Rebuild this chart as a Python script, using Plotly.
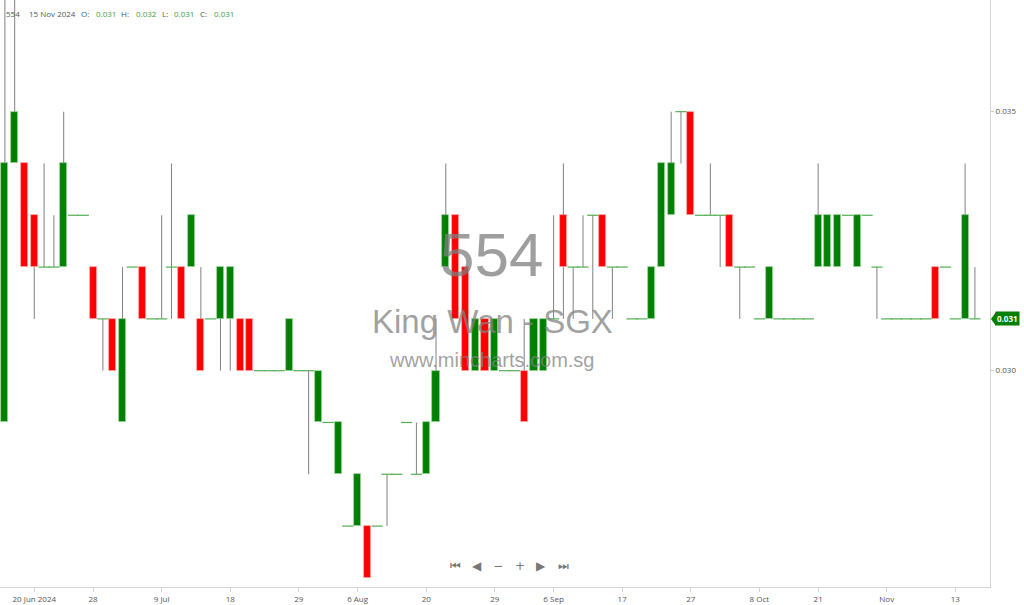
import plotly.graph_objects as go

# ---- data (one entry per trading day) ----
opens = [
    0.029, 0.034, 0.034, 0.033, 0.032, 0.032, 0.032, 0.033, 0.033, 0.032,
    0.031, 0.031, 0.029, 0.032, 0.032, 0.031, 0.031, 0.032, 0.032, 0.032,
    0.031, 0.031, 0.031, 0.031, 0.031, 0.031, 0.030, 0.030, 0.030, 0.030,
    0.030, 0.030, 0.029, 0.029, 0.028, 0.027, 0.027, 0.027, 0.027, 0.028,
    0.028, 0.029, 0.028, 0.028, 0.029, 0.032, 0.033, 0.032, 0.030, 0.031,
    0.030, 0.030, 0.030, 0.030, 0.030, 0.030, 0.031, 0.033, 0.032, 0.032,
    0.033, 0.033, 0.032, 0.032, 0.031, 0.031, 0.031, 0.032, 0.033, 0.035,
    0.035, 0.033, 0.033, 0.033, 0.033, 0.032, 0.032, 0.031, 0.031, 0.031,
    0.031, 0.031, 0.031, 0.032, 0.032, 0.032, 0.033, 0.032, 0.033, 0.032,
    0.031, 0.031, 0.031, 0.031, 0.031, 0.032, 0.032, 0.031, 0.031, 0.031,
]
highs = [
    0.038, 0.038, 0.034, 0.033, 0.034, 0.033, 0.035, 0.033, 0.033, 0.032,
    0.031, 0.031, 0.032, 0.032, 0.032, 0.031, 0.033, 0.034, 0.032, 0.033,
    0.032, 0.031, 0.032, 0.032, 0.031, 0.031, 0.030, 0.030, 0.030, 0.031,
    0.030, 0.030, 0.030, 0.029, 0.029, 0.027, 0.028, 0.027, 0.027, 0.028,
    0.028, 0.029, 0.029, 0.029, 0.031, 0.034, 0.033, 0.032, 0.031, 0.031,
    0.031, 0.030, 0.030, 0.031, 0.031, 0.031, 0.033, 0.034, 0.032, 0.033,
    0.033, 0.033, 0.032, 0.032, 0.031, 0.031, 0.032, 0.034, 0.035, 0.035,
    0.035, 0.033, 0.034, 0.033, 0.033, 0.032, 0.032, 0.031, 0.032, 0.031,
    0.031, 0.031, 0.031, 0.034, 0.033, 0.033, 0.033, 0.033, 0.033, 0.032,
    0.031, 0.031, 0.031, 0.031, 0.031, 0.032, 0.032, 0.031, 0.034, 0.032,
]
lows = [
    0.029, 0.034, 0.032, 0.031, 0.032, 0.032, 0.032, 0.033, 0.033, 0.031,
    0.030, 0.030, 0.029, 0.032, 0.031, 0.031, 0.031, 0.031, 0.031, 0.032,
    0.030, 0.031, 0.030, 0.030, 0.030, 0.030, 0.030, 0.030, 0.030, 0.030,
    0.030, 0.028, 0.029, 0.029, 0.028, 0.027, 0.027, 0.026, 0.027, 0.027,
    0.028, 0.029, 0.028, 0.028, 0.029, 0.032, 0.031, 0.030, 0.030, 0.030,
    0.030, 0.030, 0.030, 0.029, 0.030, 0.030, 0.031, 0.031, 0.031, 0.032,
    0.031, 0.032, 0.031, 0.032, 0.031, 0.031, 0.031, 0.032, 0.033, 0.034,
    0.033, 0.033, 0.033, 0.032, 0.032, 0.031, 0.032, 0.031, 0.031, 0.031,
    0.031, 0.031, 0.031, 0.032, 0.032, 0.032, 0.033, 0.032, 0.033, 0.031,
    0.031, 0.031, 0.031, 0.031, 0.031, 0.031, 0.032, 0.031, 0.031, 0.031,
]
closes = [
    0.034, 0.035, 0.032, 0.032, 0.032, 0.032, 0.034, 0.033, 0.033, 0.031,
    0.031, 0.030, 0.031, 0.032, 0.031, 0.031, 0.031, 0.032, 0.031, 0.033,
    0.030, 0.031, 0.032, 0.032, 0.030, 0.030, 0.030, 0.030, 0.030, 0.031,
    0.030, 0.030, 0.030, 0.029, 0.029, 0.027, 0.028, 0.026, 0.027, 0.028,
    0.028, 0.029, 0.028, 0.029, 0.030, 0.033, 0.031, 0.030, 0.031, 0.030,
    0.031, 0.030, 0.030, 0.029, 0.031, 0.031, 0.031, 0.032, 0.032, 0.032,
    0.033, 0.032, 0.032, 0.032, 0.031, 0.031, 0.032, 0.034, 0.034, 0.035,
    0.033, 0.033, 0.033, 0.033, 0.032, 0.032, 0.032, 0.031, 0.032, 0.031,
    0.031, 0.031, 0.031, 0.033, 0.033, 0.033, 0.033, 0.033, 0.033, 0.032,
    0.031, 0.031, 0.031, 0.031, 0.031, 0.031, 0.032, 0.031, 0.033, 0.031,
]
tick_idx = [3, 9, 16, 23, 30, 36, 43, 50, 56, 63, 70, 77, 83, 90, 97]
tick_text = ["20 Jun 2024", "28", "9 Jul", "18", "29", "6 Aug", "20", "29",
             "6 Sep", "17", "27", "8 Oct", "21", "Nov", "13"]
price_ticks = [0.030, 0.035]
symbol = "554"
last_date = "15 Nov 2024"
name = "King Wan - SGX"
site = "www.mincharts.com.sg"

GREEN = "#008000"
RED = "#ff0000"
FONT = "Open Sans"

n = len(opens)
xs = list(range(n))

# wicks: upper and lower parts only, so they never cross the bodies
wick_x, wick_y = [], []
for i in xs:
    top = max(opens[i], closes[i])
    bot = min(opens[i], closes[i])
    if highs[i] > top:
        wick_x += [i, i, None]
        wick_y += [top, highs[i], None]
    if lows[i] < bot:
        wick_x += [i, i, None]
        wick_y += [lows[i], bot, None]

bx, bbase, bh, bcol, bline = [], [], [], [], []
dx, dy = [], []
for i in xs:
    o, c = opens[i], closes[i]
    if abs(c - o) < 1e-9:
        dx.append(i)
        dy.append(c)
    else:
        bx.append(i)
        bbase.append(min(o, c))
        bh.append(abs(c - o))
        if c > o:
            bcol.append(GREEN)
            bline.append("#9fd39f")
        else:
            bcol.append(RED)
            bline.append("#ffa8a8")

fig = go.Figure()
fig.add_trace(go.Scatter(x=wick_x, y=wick_y, mode="lines",
                         line=dict(color="#808080", width=1),
                         hoverinfo="skip", showlegend=False))
fig.add_trace(go.Bar(x=bx, y=bh, base=bbase, width=0.72,
                     marker=dict(color=bcol, line=dict(color=bline, width=0.8)),
                     showlegend=False))
fig.add_trace(go.Scatter(x=dx, y=dy, mode="markers",
                         marker=dict(symbol="line-ew", size=8,
                                     line=dict(color="#52ad52", width=1.2)),
                         showlegend=False))

PW, PH = 990.0, 587.0
def px(x):
    return x / PW
def py(y):
    return 1 - y / PH

ann = []
# watermark
ann.append(dict(text=symbol, x=px(491), y=py(254), xref="paper", yref="paper",
                showarrow=False, font=dict(family="Liberation Sans", size=62,
                                           color="rgba(125,125,125,0.75)")))
ann.append(dict(text=name, x=px(492), y=py(321), xref="paper", yref="paper",
                showarrow=False, font=dict(family="Liberation Sans", size=33,
                                           color="rgba(130,130,130,0.75)")))
ann.append(dict(text=site, x=px(492), y=py(360), xref="paper", yref="paper",
                showarrow=False, font=dict(family="Liberation Sans", size=20,
                                           color="rgba(130,130,130,0.75)")))

# header
def fmt(v):
    return f"{v:.3f}"
header = [
    (symbol, 4, "#555555"), (last_date, 27, "#555555"),
    ("O:", 79, "#555555"), (fmt(opens[-1]), 94, "#3d9e3d"),
    ("H:", 119, "#555555"), (fmt(highs[-1]), 134, "#3d9e3d"),
    ("L:", 160, "#555555"), (fmt(lows[-1]), 172, "#3d9e3d"),
    ("C:", 198, "#555555"), (fmt(closes[-1]), 212, "#3d9e3d"),
]
for t, xp, col in header:
    ann.append(dict(text=t, x=px(xp), y=py(13.5), xref="paper", yref="paper",
                    xanchor="left", yanchor="middle", showarrow=False,
                    font=dict(family=FONT, size=8, color=col)))

# navigation buttons
nav = [("⏮", 455), ("◀", 477), ("−", 498), ("+", 520), ("▶", 541), ("⏭", 563)]
for t, xp in nav:
    ann.append(dict(text=t, x=px(xp), y=py(575), xref="paper", yref="paper",
                    showarrow=False,
                    font=dict(family="DejaVu Sans", size=12, color="#777777")))

# last price tag
ann.append(dict(text=f"<b>{fmt(closes[-1])}</b>", x=1.0, y=closes[-1],
                xref="paper", yref="y", xanchor="left", yanchor="middle",
                xshift=5, showarrow=False, bgcolor=GREEN, borderpad=1,
                font=dict(family=FONT, size=8, color="white")))

shapes = [dict(type="path", xref="paper", yref="y",
               path=f"M {1.0 + 1/PW},{closes[-1]} L {1.0 + 6/PW},{closes[-1] + 7/51800} "
                    f"L {1.0 + 6/PW},{closes[-1] - 7/51800} Z",
               fillcolor=GREEN, line=dict(width=0))]

fig.update_layout(
    width=1024, height=605,
    margin=dict(l=0, r=34, t=0, b=18),
    paper_bgcolor="white", plot_bgcolor="white",
    showlegend=False, bargap=0,
    annotations=ann, shapes=shapes,
    xaxis=dict(range=[-0.5, 100.54], tickmode="array", tickvals=tick_idx,
               ticktext=tick_text, showgrid=False, zeroline=False,
               showline=True, linecolor="#d3d3d3", linewidth=1,
               ticks="outside", ticklen=4, tickcolor="#d3d3d3",
               tickfont=dict(family=FONT, size=8, color="#555555")),
    yaxis=dict(range=[0.025824, 0.037156], side="right", tickmode="array",
               tickvals=price_ticks, ticktext=[fmt(v) for v in price_ticks],
               showgrid=False, zeroline=False, showline=True,
               linecolor="#d3d3d3", linewidth=1, ticks="outside", ticklen=3,
               tickcolor="#c8c8c8",
               tickfont=dict(family=FONT, size=8, color="#555555")),
)

fig.write_html("out.html", config={"displayModeBar": False},
               post_script="document.body.style.margin='0';"
                           "document.body.style.overflow='hidden';")
